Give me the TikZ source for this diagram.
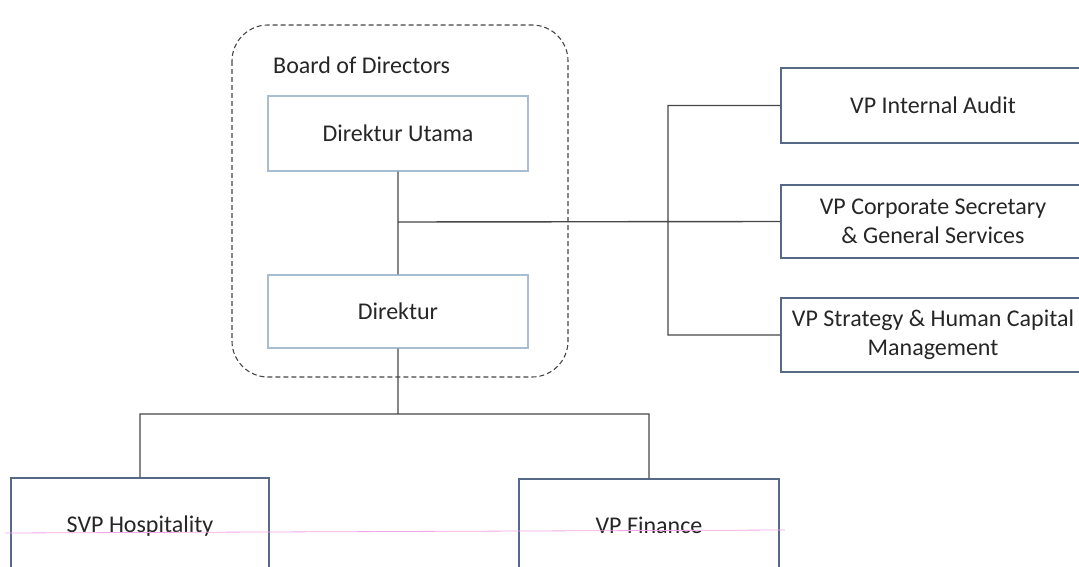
\documentclass[tikz,border=0pt]{standalone}
\usepackage{fontspec}
\setmainfont{Carlito}
\usepackage{xcolor}
\definecolor{boxline}{HTML}{566A88}
\definecolor{boxlight}{HTML}{A8BCD2}
\definecolor{wire}{HTML}{474747}
\definecolor{ink}{HTML}{262626}
\definecolor{scanline}{HTML}{F2A6E6}

\begin{document}
\begin{tikzpicture}[x=1pt,y=-1pt]
            \tikzset{
            org node/.style={rectangle,draw=boxline,line width=1.4pt,inner sep=0,align=center,
                text=ink,font=\fontsize{24}{29.3}\selectfont},
            org light/.style={org node,draw=boxlight},
            org edge/.style={draw=wire,line width=1.4pt}
            }
            \useasboundingbox (0,0) rectangle (1079,567);
            \clip (0,0) rectangle (1079,567);
            % board of directors
            \draw[wire,line width=1.1pt,dash pattern=on 5pt off 3pt,rounded corners=36pt]
                (232,25) rectangle (568,377);
            \node[anchor=west,inner sep=0,text=ink,font=\fontsize{24}{29.3}\selectfont] (bod) at (273,65) {Board of Directors};
            \node[org light,minimum width=260pt,minimum height=75pt] (du) at (398,133.5) {Direktur Utama};
            \node[org light,minimum width=260pt,minimum height=73pt] (dir) at (398,311.5) {Direktur};
            % staff units
            \node[org node,minimum width=304pt,minimum height=75pt] (audit) at (933,105.5) {VP Internal Audit};
            \node[org node,minimum width=304pt,minimum height=73pt] (sec) at (933,221.5) {VP Corporate Secretary\\\& General Services};
            \node[org node,minimum width=304pt,minimum height=74pt] (strat) at (933,335) {VP Strategy \& Human Capital\\Management};
            % line units
            \node[org node,minimum width=258pt,minimum height=96pt] (svp) at (140,526) {SVP Hospitality};
            \node[org node,minimum width=260pt,minimum height=92pt] (fin) at (649,525) {VP Finance};

            \coordinate (j1) at (398,222);
            \coordinate (j2) at (398,414);
            \coordinate (rbus) at (668,0);

            \path[org edge]
            (du.south) -- (dir.north)
            (j1) -- (sec.west)
            (audit.west) -- (audit.west -| rbus) |- (strat.west)
            (dir.south) -- (j2)
            (svp.north) |- (j2) -| (fin.north)
            ;
            \draw[scanline,line width=0.8pt] (5,533) -- (785,530);
        \end{tikzpicture}
\end{document}
